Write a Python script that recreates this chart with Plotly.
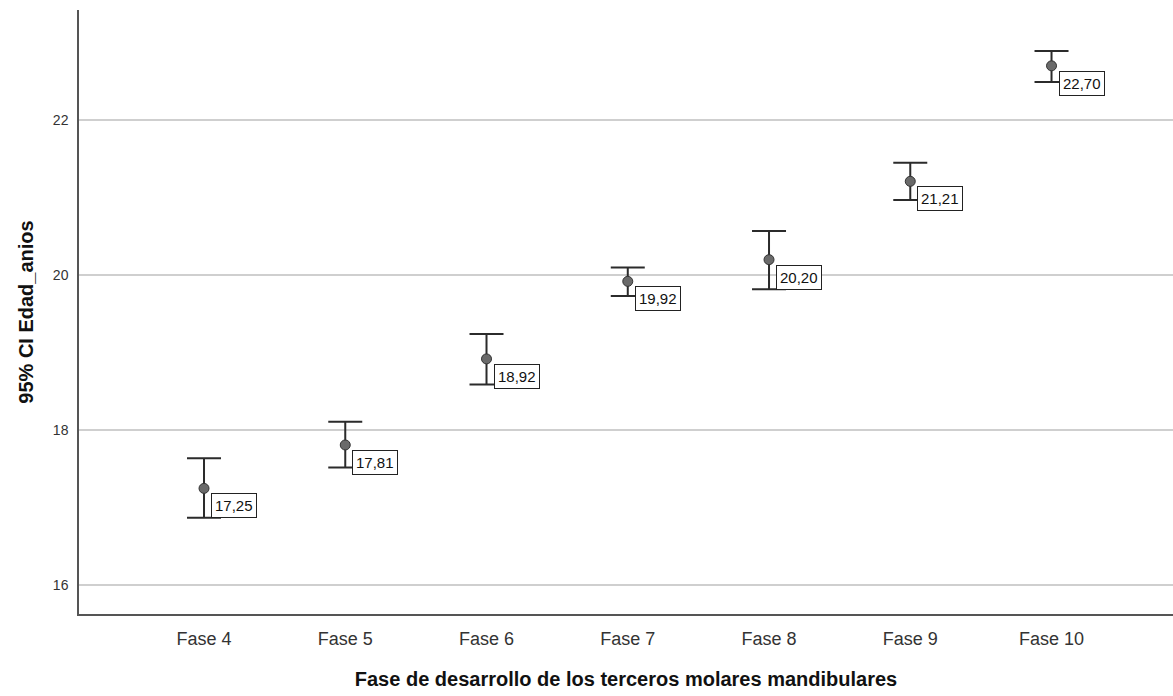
import plotly.graph_objects as go

# Mean age per developmental stage with 95% confidence limits
fases = ["Fase 4", "Fase 5", "Fase 6", "Fase 7", "Fase 8", "Fase 9", "Fase 10"]
medias = [17.25, 17.81, 18.92, 19.92, 20.20, 21.21, 22.70]
ic_superior = [17.64, 18.11, 19.24, 20.10, 20.57, 21.45, 22.89]
ic_inferior = [16.87, 17.52, 18.59, 19.73, 19.82, 20.97, 22.49]
ticks_y = [16, 18, 20, 22]

pos = list(range(len(fases)))
err_plus = [s - m for s, m in zip(ic_superior, medias)]
err_minus = [m - i for m, i in zip(medias, ic_inferior)]

fig = go.Figure()
fig.add_trace(go.Scatter(
    x=pos, y=medias, mode="markers",
    marker=dict(size=10, color="#6a6a6a", line=dict(color="#333333", width=1)),
    error_y=dict(type="data", symmetric=False, array=err_plus, arrayminus=err_minus,
                 color="#2b2b2b", thickness=2, width=17),
    showlegend=False, hoverinfo="skip",
))

for p, m in zip(pos, medias):
    fig.add_annotation(
        x=p, y=m, xref="x", yref="y",
        text=f"{m:.2f}".replace(".", ","),
        showarrow=False, xanchor="left", yanchor="top",
        xshift=7, yshift=-5,
        font=dict(family="Liberation Sans, Arial", size=15, color="#111111"),
        bgcolor="white", bordercolor="#222222", borderwidth=1, borderpad=3,
    )

fig.update_layout(
    width=1173, height=696,
    margin=dict(l=79, r=0, t=10, b=82),
    paper_bgcolor="white", plot_bgcolor="white",
    font=dict(family="Liberation Sans, Arial", color="#222222"),
)
fig.update_xaxes(
    range=[-0.885, 6.86], tickvals=pos, ticktext=fases,
    showgrid=False, zeroline=False,
    showline=True, linecolor="#555555", linewidth=1.5,
    ticks="", ticklabelstandoff=8, tickfont=dict(size=18, color="#333333"),
    title=dict(text="<b>Fase de desarrollo de los terceros molares mandibulares</b>",
               font=dict(size=20, color="#111111"), standoff=24),
)
fig.update_yaxes(
    range=[15.63, 23.42], tickvals=ticks_y, ticktext=[str(t) for t in ticks_y],
    showgrid=True, gridcolor="#cfcfcf", gridwidth=1.5, zeroline=False,
    showline=True, linecolor="#555555", linewidth=1.5,
    ticks="", ticklabelstandoff=6, tickfont=dict(size=14, color="#333333"),
    title=dict(text="<b>95% CI Edad_anios</b>",
               font=dict(size=20, color="#111111"), standoff=14),
)

fig.write_html("out.html")
